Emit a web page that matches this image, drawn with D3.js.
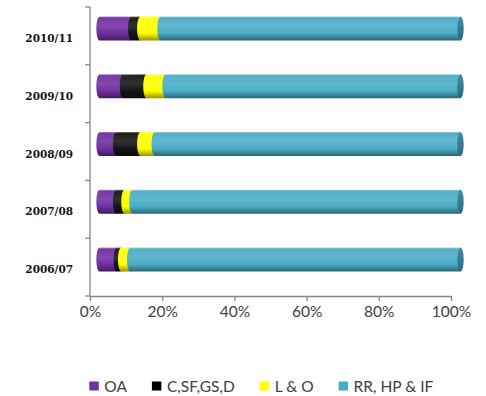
<!DOCTYPE html>
<html>
<head>
<meta charset="utf-8">
<script src="https://cdn.jsdelivr.net/npm/d3@7/dist/d3.min.js"></script>
<style>
  html, body { margin: 0; padding: 0; background: #fff; }
  svg { display: block; }
</style>
</head>
<body>
<svg id="chart" width="486" height="396"></svg>
<script>
// Share of spending per year (percent of total), stacked to 100%
const years = ["2010/11", "2009/10", "2008/09", "2007/08", "2006/07"];
const seriesNames = ["OA", "C,SF,GS,D", "L & O", "RR, HP & IF"];
const oa      = [8.8, 6.5, 4.6, 4.6, 4.8];
const csfgsd  = [2.5, 6.5, 6.7, 2.3, 1.2];
const lo      = [5.6, 5.3, 4.0, 2.2, 2.5];
const rrhpif  = [83.1, 81.7, 84.7, 90.9, 91.5];
const xTicks  = [0, 20, 40, 60, 80, 100];

const colors = ["#7030a0", "#000000", "#ffff00", "#4bacc6"];
const seriesValues = [oa, csfgsd, lo, rrhpif];

const svg = d3.select("#chart");

const x = d3.scaleLinear().domain([0, 100]).range([90, 451]);
const y = d3.scaleBand().domain(years).range([7, 296]).paddingInner(0.585).paddingOuter(0.2925);

// 3D depth offset of the cylinders relative to the axes
const dx = 9.5, dy = -7.5;
const rx = 3.2;

// vertical shading gradients for the cylinders
const defs = svg.append("defs");
function shade(c, k) { return d3.interpolateRgb(c, k > 0 ? "#ffffff" : "#000000")(Math.abs(k)); }
colors.forEach((c, i) => {
  const g = defs.append("linearGradient").attr("id", "g" + i)
    .attr("x1", 0).attr("y1", 0).attr("x2", 0).attr("y2", 1);
  const base = i === 1 ? "#141414" : c;
  [[0, shade(base, 0.45)], [0.06, shade(base, 0.05)], [0.4, shade(base, 0.12)],
   [0.7, base], [0.92, shade(base, -0.3)], [1, shade(base, -0.42)]]
    .forEach(([o, col]) => g.append("stop").attr("offset", o).attr("stop-color", col));
});
const capGrad = defs.append("linearGradient").attr("id", "cap")
  .attr("x1", 0).attr("y1", 0).attr("x2", 0).attr("y2", 1);
capGrad.append("stop").attr("offset", 0).attr("stop-color", "#4090a6");
capGrad.append("stop").attr("offset", 1).attr("stop-color", "#2b6a7c");

// axes
const axisColor = "#868686";
const yAxis = svg.append("g");
yAxis.append("line")
  .attr("x1", x(0)).attr("x2", x(0))
  .attr("y1", y.range()[0]).attr("y2", y.range()[1])
  .attr("stroke", axisColor).attr("stroke-width", 1.3);
const bounds = years.map(d => y(d) - y.step() * y.paddingInner() / 2).concat([y.range()[1]]);
yAxis.selectAll("line.tk").data(bounds).join("line").attr("class", "tk")
  .attr("x1", x(0) - 5).attr("x2", x(0))
  .attr("y1", d => d).attr("y2", d => d)
  .attr("stroke", axisColor).attr("stroke-width", 1.3);

const xAxisG = svg.append("g").attr("transform", `translate(0,${y.range()[1]})`)
  .call(d3.axisBottom(x).tickValues(xTicks).tickFormat(d => d + "%").tickSize(5).tickSizeOuter(0).tickPadding(5));
xAxisG.select(".domain").attr("stroke", axisColor).attr("stroke-width", 1.3);
xAxisG.selectAll(".tick line").attr("stroke", axisColor).attr("stroke-width", 1.3);
xAxisG.selectAll("text").attr("font-family", "Lato, 'Open Sans', sans-serif")
  .attr("font-size", 15.5).attr("fill", "#404040");

// category labels
svg.append("g").selectAll("text").data(years).join("text")
  .attr("x", 73).attr("y", d => y(d) + y.bandwidth() / 2 + 2)
  .attr("text-anchor", "end").attr("dominant-baseline", "central")
  .attr("font-family", "'DejaVu Serif', serif").attr("font-weight", "bold")
  .attr("font-size", 10.5).attr("fill", "#111")
  .text(d => d);

// stacked cylinders
const rows = years.map((yr, i) => {
  let acc = 0;
  return seriesValues.map((vals, s) => {
    const x0 = acc; acc += vals[i];
    return { yr, s, x0, x1: acc };
  });
});

const bars = svg.append("g");
rows.forEach(segs => {
  const row = bars.append("g");
  segs.forEach(d => {
    const top = y(d.yr) + dy, h = y.bandwidth(), bot = top + h;
    const a = x(d.x0) + dx, b = x(d.x1) + dx;
    row.append("path")
      .attr("d", `M${a},${top} L${b},${top} L${b},${bot} L${a},${bot} A${rx},${h / 2} 0 0 1 ${a},${top} Z`)
      .attr("fill", `url(#g${d.s})`);
  });
  const last = segs[segs.length - 1];
  row.append("ellipse")
    .attr("cx", x(last.x1) + dx).attr("cy", y(last.yr) + dy + y.bandwidth() / 2)
    .attr("rx", rx).attr("ry", y.bandwidth() / 2)
    .attr("fill", "url(#cap)");
});

// legend
const legend = svg.append("g").attr("font-family", "Lato, 'Open Sans', sans-serif")
  .attr("font-size", 15.5).attr("fill", "#404040");
let lx = 89.3;
seriesNames.forEach((name, i) => {
  legend.append("rect").attr("x", lx).attr("y", 381.5).attr("width", 9.5).attr("height", 9)
    .attr("fill", colors[i]);
  const t = legend.append("text").attr("x", lx + 15).attr("y", 391.5).text(name);
  lx += 15 + t.node().getComputedTextLength() + 25;
});
</script>
</body>
</html>
